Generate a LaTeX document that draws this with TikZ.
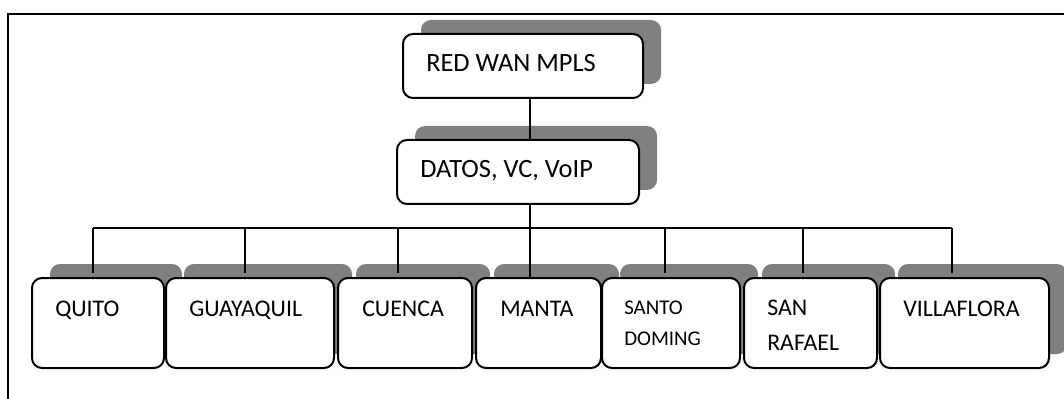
\documentclass[tikz,border=0pt]{standalone}
\usepackage{fontspec}
\setmainfont{Carlito}
\usetikzlibrary{shadows,calc}
\definecolor{shade}{RGB}{128,128,128}
\tikzset{
  box/.style={draw=black, line width=1.5pt, rounded corners=7.5pt, fill=white,
    inner sep=0pt, anchor=north west,
    drop shadow={shadow xshift=13.5pt, shadow yshift=10.5pt, fill=shade, opacity=1}},
  wh/.style 2 args={minimum width=#1*0.75pt, minimum height=#2*0.75pt},
  lbl/.style={inner sep=0pt, anchor=base west, align=left},
  big/.style={font=\fontsize{19.8pt}{24pt}\selectfont},
  mid/.style={font=\fontsize{17.9pt}{26.25pt}\selectfont},
  small/.style={font=\fontsize{15.7pt}{23.25pt}\selectfont},
  wire/.style={line width=1.5pt},
  frame/.style={line width=1pt}
}
\begin{document}
\begin{tikzpicture}[x=0.75pt, y=-0.75pt]
\useasboundingbox (0,0) rectangle (1064,399);

% page frame (top and left edges)
\draw[frame] (1064,14) -- (8,14) -- (8,399);

% upper levels
\node[box, wh={240}{64}] (red) at (402,33) {};
\node[box, wh={242}{64}] (datos) at (396,139) {};

% sites
\node[box, wh={132}{90}] (quito) at (31,277) {};
\node[box, wh={168}{90}] (guaya) at (165,277) {};
\node[box, wh={134}{90}] (cuenca) at (337,277) {};
\node[box, wh={125}{90}] (manta) at (475,277) {};
\node[box, wh={138}{90}] (santo) at (601,277) {};
\node[box, wh={133}{90}] (rafael) at (743,277) {};
\node[box, wh={169}{90}] (villa) at (879,277) {};

% labels (base anchor of a two-line label is its last line)
\node[lbl, big] (tred) at ($(red.north west)+(24,39)$) {RED WAN MPLS};
\node[lbl, big] (tdatos) at ($(datos.north west)+(24,39)$) {DATOS, VC, VoIP};
\node[lbl, mid] (tquito) at ($(quito.north west)+(24,39)$) {QUITO};
\node[lbl, mid] (tguaya) at ($(guaya.north west)+(24,39)$) {GUAYAQUIL};
\node[lbl, mid] (tcuenca) at ($(cuenca.north west)+(25,39)$) {CUENCA};
\node[lbl, mid] (tmanta) at ($(manta.north west)+(25,39)$) {MANTA};
\node[lbl, small] (tsanto) at ($(santo.north west)+(23,68)$) {SANTO\\DOMING};
\node[lbl, mid] (trafael) at ($(rafael.north west)+(24,73)$) {SAN\\RAFAEL};
\node[lbl, mid] (tvilla) at ($(villa.north west)+(24,39)$) {VILLAFLORA};

% connectors
\coordinate (trunk) at (530,228);
\coordinate (bq) at (93,228);
\coordinate (bg) at (245,228);
\coordinate (bc) at (398,228);
\coordinate (bs) at (665,228);
\coordinate (br) at (803,228);
\coordinate (bv) at (952,228);

\draw[wire] (red.south -| trunk) -- (datos.north -| trunk);
\draw[wire] (datos.south -| trunk) -- (manta.north -| trunk);
\draw[wire] (bq) -- (bv);
\foreach \b/\n in {bq/quito, bg/guaya, bc/cuenca, bs/santo, br/rafael, bv/villa}
  \draw[wire, shorten >=3pt] (\b) -- (\b |- \n.north);
\end{tikzpicture}
\end{document}
